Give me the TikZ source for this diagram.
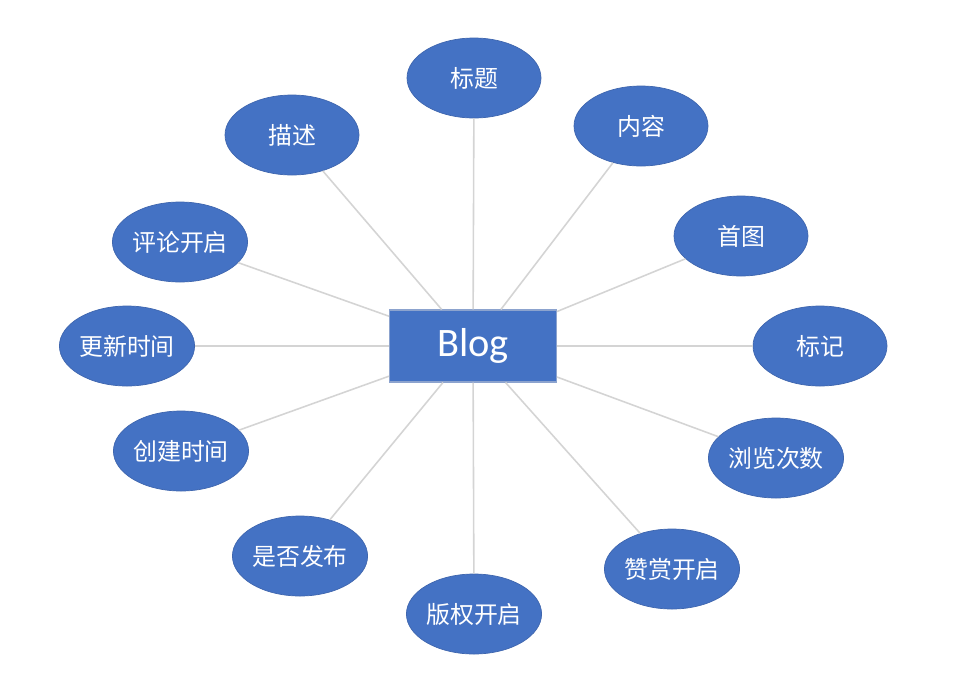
\documentclass[tikz,border=0pt]{standalone}
\usepackage{fontspec}
\setmainfont{Carlito}
\newfontfamily\cjk{Noto Sans CJK SC}
\usetikzlibrary{shapes.geometric}
\definecolor{officeblue}{HTML}{4472C4}
\definecolor{edgeblue}{HTML}{3F66AE}
\definecolor{linegray}{HTML}{D4D4D4}
\begin{document}
\begin{tikzpicture}[x=0.02cm,y=-0.02cm,
  attr/.style={ellipse,fill=officeblue,draw=edgeblue,line width=0.4pt,minimum width=134*0.02cm,minimum height=80*0.02cm,inner sep=0pt,text=white,font=\cjk\fontsize{13.6}{16}\selectfont},
  ent/.style={rectangle,fill=officeblue,draw=edgeblue!60!white,line width=0.6pt,minimum width=167*0.02cm,minimum height=72*0.02cm,inner sep=0pt,text=white,font=\fontsize{23}{26}\selectfont},
  link/.style={draw=linegray,line width=0.9pt}]
\useasboundingbox (0,0) rectangle (966,690);
\node[ent] (blog) at (473,346) {Blog};
\node[attr] (title) at (474,78) {标题};
\node[attr] (content) at (641,126) {内容};
\node[attr] (firstpic) at (741,236) {首图};
\node[attr] (flag) at (820,346) {标记};
\node[attr] (views) at (776,458) {浏览次数};
\node[attr] (appr) at (672,569) {赞赏开启};
\node[attr] (copy) at (474,614) {版权开启};
\node[attr] (pub) at (300,556) {是否发布};
\node[attr] (ctime) at (181,451) {创建时间};
\node[attr] (utime) at (127,346) {更新时间};
\node[attr] (comm) at (180,242) {评论开启};
\node[attr] (desc) at (292,135) {描述};
\foreach \n in {title,content,firstpic,flag,views,appr,copy,pub,ctime,utime,comm,desc}
  \draw[link] (blog) -- (\n);
\end{tikzpicture}
\end{document}
